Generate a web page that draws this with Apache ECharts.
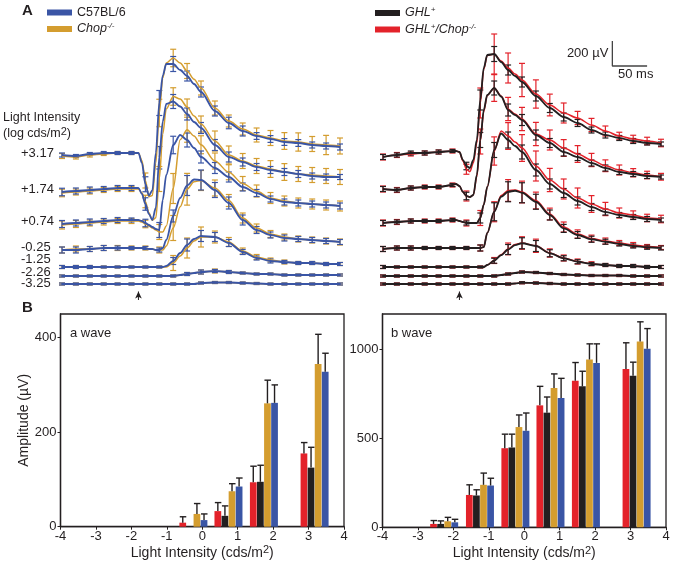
<!DOCTYPE html>
<html><head><meta charset="utf-8">
<script src="https://cdn.jsdelivr.net/npm/echarts@6/dist/echarts.min.js"></script>
<style>html,body{margin:0;padding:0;background:#fff}#c{width:673px;height:563px}</style>
</head><body><div id="c"></div>
<script>
const FONT = '"Liberation Sans", Arial, Helvetica, sans-serif';
const INK = '#231f20';
const COL_C57 = '#3a55a5', COL_CHOP = '#d49d2f', COL_GHL = '#231f20', COL_GHLCHOP = '#e3222a';

// ---------- Panel A: ERG traces ----------
const timeMs = [0,20,40,60,80,100,105,110,115,120,125,130,135,140,145,150,160,170,180,190,200,220,240,260,280,300,320,340,360,380,400];
const errTimeMs = [0,20,40,60,80,100,120,140,160,180,200,220,240,260,280,300,320,340,360,380,400];
const flashMs = 110;
const intensityLabels = ['+3.17','+1.74','+0.74','-0.25','-1.25','-2.26','-3.25'];
const traceBaselineUV = [1048,760,504,288,136,64,0];
const labelLevelUV = [1048,760,504,296,200,96,8];
const scaleBarUV = 200, scaleBarMs = 50;

const c57Trace = [
 [-16,-24,-8,0,0,0,0,0,-80,-250,-340,-300,0,400,620,712,712,664,616,552,488,336,240,176,136,112,88,80,64,56,48],
 [-24,-16,-8,0,8,8,8,8,-40,-120,-200,-248,-150,250,540,680,700,660,600,536,488,352,256,216,176,152,136,120,104,96,96],
 [-24,-16,-8,0,8,8,8,8,0,-16,-32,-48,-64,-72,168,368,608,688,648,584,512,424,352,272,224,176,152,144,136,128,120],
 [-16,-16,-8,0,0,0,0,0,0,0,-8,-8,-16,-16,0,64,256,400,500,548,544,464,360,224,144,104,80,72,64,56,48],
 [0,0,0,0,0,0,0,0,0,0,0,0,0,0,0,8,48,112,176,224,248,240,192,120,72,48,40,32,32,24,24],
 [0,0,0,0,0,0,0,0,0,0,0,0,0,0,0,0,0,8,16,24,32,40,32,24,16,16,8,8,8,8,8],
 [0,0,0,0,0,0,0,0,0,0,0,0,0,0,0,0,0,0,0,0,8,12,12,8,4,0,0,0,0,0,0]
];
const chopTrace = [
 [-24,-32,-16,-8,0,0,0,0,-60,-220,-350,-340,-80,320,600,720,760,720,656,590,520,360,256,192,144,120,96,88,72,64,56],
 [-32,-24,-16,-8,0,0,0,0,-30,-100,-190,-250,-230,80,440,640,740,720,656,584,520,384,272,224,184,160,136,120,112,104,96],
 [-32,-24,-16,-8,0,0,0,0,-8,-24,-40,-56,-72,-88,-88,-40,260,650,730,680,610,480,390,300,240,184,160,144,136,128,120],
 [-16,-8,-8,0,0,0,0,0,0,0,-8,-8,-16,-16,-16,16,160,330,470,530,540,480,380,240,160,112,88,72,64,56,48],
 [0,0,0,0,0,0,0,0,0,0,0,0,0,0,0,0,32,88,152,208,240,240,200,128,80,56,40,32,32,24,24],
 [0,0,0,0,0,0,0,0,0,0,0,0,0,0,0,0,0,8,16,24,32,40,32,24,16,16,8,8,8,8,8],
 [0,0,0,0,0,0,0,0,0,0,0,0,0,0,0,0,0,0,0,0,8,12,12,8,4,0,0,0,0,0,0]
];
const ghlTrace = [
 [-32,-16,0,0,8,16,16,8,-56,-104,-120,-56,104,424,680,784,792,728,664,616,568,456,360,288,240,184,144,120,96,80,72],
 [0,-8,8,16,16,32,40,24,-24,-56,-64,-48,112,392,632,752,808,740,632,592,552,432,368,296,256,208,168,136,120,104,96],
 [-16,-8,0,0,0,8,8,0,-8,-16,-16,-16,-16,24,130,272,568,700,648,600,552,408,296,224,160,112,72,48,32,16,8],
 [-8,0,0,0,0,0,0,0,0,0,0,0,0,0,8,120,290,410,450,458,442,370,264,157,104,70,50,32,16,6,0],
 [0,0,0,0,0,0,0,0,0,0,0,0,0,0,0,16,50,95,140,175,190,168,110,70,42,24,16,8,8,0,0],
 [0,0,0,0,0,0,0,0,0,0,0,0,0,0,0,0,0,8,16,24,32,28,20,12,8,4,4,4,0,0,0],
 [0,0,0,0,0,0,0,0,0,0,0,0,0,0,0,0,0,0,0,4,10,8,4,0,0,0,0,0,0,0,0]
];
const ghlChopTrace = [
 [-32,-16,-8,0,8,16,16,8,-64,-130,-150,-80,80,400,670,780,792,736,680,632,584,472,384,320,280,224,176,136,112,96,80],
 [0,-8,8,16,16,32,40,24,-24,-56,-64,-48,100,380,620,750,808,744,640,600,560,440,392,328,280,232,186,152,130,112,98],
 [-16,-8,0,0,0,8,8,0,-8,-16,-16,-16,-16,24,130,272,560,720,680,632,584,440,328,256,184,136,96,64,48,24,16],
 [-8,0,0,0,0,0,0,0,0,0,0,0,0,0,8,120,290,420,460,464,448,380,272,168,112,76,56,40,24,12,4],
 [0,0,0,0,0,0,0,0,0,0,0,0,0,0,0,16,52,98,145,180,192,170,112,72,44,26,16,8,8,0,0],
 [0,0,0,0,0,0,0,0,0,0,0,0,0,0,0,0,0,8,16,24,32,28,20,12,8,4,4,4,0,0,0],
 [0,0,0,0,0,0,0,0,0,0,0,0,0,0,0,0,0,0,0,4,10,8,4,0,0,0,0,0,0,0,0]
];
const c57Err = [
 [16,12,12,12,12,12,60,100,60,40,40,40,46,40,27,27,27,27,24,24,24],
 [30,24,24,20,20,20,50,90,56,48,44,44,40,32,28,28,28,28,24,24,20],
 [28,24,24,20,20,16,30,60,70,56,48,44,40,32,28,24,24,24,24,24,24],
 [24,24,20,20,16,12,12,16,48,80,80,60,48,40,28,24,24,20,20,20,20],
 [12,12,12,8,8,8,8,8,28,48,44,36,28,20,16,16,12,12,12,12,12],
 [8,8,8,8,8,8,8,8,8,12,16,12,12,8,8,8,8,8,8,8,8],
 [8,8,8,8,8,8,8,8,8,8,8,8,8,8,8,8,8,8,8,8,8]
];
const chopErr = [
 [20,16,16,12,12,12,60,110,70,60,56,56,48,48,56,60,67,73,60,77,64],
 [30,24,24,20,20,20,50,100,70,64,64,80,72,60,60,67,67,60,60,60,60],
 [32,28,24,24,20,20,30,60,120,100,72,64,60,56,48,44,40,40,40,40,40],
 [24,24,20,20,20,16,16,24,100,127,80,64,48,40,32,28,24,24,24,24,24],
 [12,12,12,8,8,8,8,8,60,80,80,48,36,24,20,16,16,12,12,12,12],
 [8,8,8,8,8,8,8,8,8,12,16,16,12,8,8,8,8,8,8,8,8],
 [8,8,8,8,8,8,8,8,8,8,8,8,8,8,8,8,8,8,8,8,8]
];
const ghlErr = [
 [20,16,16,16,16,12,30,80,60,40,40,40,36,32,28,24,24,20,20,16,16],
 [20,16,16,12,12,12,30,60,56,48,44,40,36,32,28,24,24,20,20,20,16],
 [20,16,16,12,12,12,16,40,60,64,56,48,40,36,32,28,24,20,20,20,16],
 [20,16,16,12,12,12,12,24,72,80,80,60,40,32,27,24,20,16,16,16,16],
 [12,8,8,8,8,8,8,8,20,40,44,44,28,20,16,12,12,12,12,12,12],
 [8,8,8,8,8,8,8,8,8,8,8,8,8,8,8,8,8,8,8,8,8],
 [8,8,8,8,8,8,8,8,8,8,8,8,8,8,8,8,8,8,8,8,8]
];
const ghlChopErr = [
 [24,20,16,16,16,16,40,120,160,120,133,113,87,80,53,53,40,30,30,30,30],
 [24,20,16,16,16,16,40,100,107,93,93,93,80,67,67,53,47,40,33,30,27],
 [24,20,16,16,16,16,24,60,113,107,107,120,93,80,80,67,53,40,33,30,30],
 [20,16,16,12,12,12,12,24,80,87,87,67,47,40,33,27,24,20,20,16,16],
 [12,8,8,8,8,8,8,8,24,47,50,53,33,24,20,16,12,12,12,12,12],
 [8,8,8,8,8,8,8,8,8,8,8,8,8,8,8,8,8,8,8,8,8],
 [8,8,8,8,8,8,8,8,8,8,8,8,8,8,8,8,8,8,8,8,8]
];

// ---------- Panel B: amplitudes ----------
const intensityLog = [-3.25,-2.26,-1.25,-0.25,0.74,1.74,3.17];
const aWaveGhlChop = [0,0,0,8.5,33,94,155];
const aWaveGhlChopErr = [0,0,0,12.5,18,34,23];
const aWaveGhl = [0,0,0,0,23,95,125];
const aWaveGhlErr = [0,0,0,0,21,35,43];
const aWaveChop = [0,0,0,27,75,261,344];
const aWaveChopErr = [0,0,0,22,16,49,63];
const aWaveC57 = [0,0,0,14,85,262,328];
const aWaveC57Err = [0,0,0,13,18,38,39];
const bWaveGhlChop = [0,19,182,445,686,825,891];
const bWaveGhlChopErr = [0,19,57,79,107,102,147];
const bWaveGhl = [0,19,179,449,645,793,853];
const bWaveGhlErr = [0,17,32,75,88,85,76];
const bWaveChop = [0,34,239,564,784,944,1045];
const bWaveChopErr = [0,22,66,68,79,88,111];
const bWaveC57 = [0,28,235,543,727,925,1004];
const bWaveC57Err = [0,17,41,100,111,107,114];
const aWaveTicks = [0,200,400];
const bWaveTicks = [0,500,1000];
const BAR_W = 0.19;
const barOffsets = {ghlChop:-0.3, ghl:-0.1, chop:0.1, c57:0.3};

function traceLines(name, traces, color, width, g){
  return traces.map((tr,k)=>({
    type:'line', name, xAxisIndex:g, yAxisIndex:g, silent:true,
    data: timeMs.map((t,i)=>[t, tr[i]+traceBaselineUV[k]]),
    showSymbol:false, symbol:'none', smooth:0.3, smoothMonotone:'x',
    lineStyle:{color, width}, itemStyle:{color}
  }));
}
function traceErrors(name, traces, errs, color, g){
  const data = [];
  traces.forEach((tr,k)=>errTimeMs.forEach((t,j)=>{
    const i = timeMs.indexOf(t);
    data.push([t, tr[i]+traceBaselineUV[k], errs[k][j]]);
  }));
  return {type:'custom', name:name+' SEM', xAxisIndex:g, yAxisIndex:g, silent:true,
    data, encode:{x:0,y:1}, itemStyle:{color},
    renderItem(params, api){
      const t=api.value(0), v=api.value(1), e=api.value(2);
      const a=api.coord([t,v+e]), b=api.coord([t,v-e]); const hw=3;
      const st={stroke:color, lineWidth:1.2};
      return {type:'group', children:[
        {type:'line', shape:{x1:a[0],y1:a[1],x2:b[0],y2:b[1]}, style:st},
        {type:'line', shape:{x1:a[0]-hw,y1:a[1],x2:a[0]+hw,y2:a[1]}, style:st},
        {type:'line', shape:{x1:b[0]-hw,y1:b[1],x2:b[0]+hw,y2:b[1]}, style:st}
      ]};
    }};
}
function barSeries(name, vals, errs, color, off, g){
  return {type:'custom', name, xAxisIndex:g, yAxisIndex:g, silent:true,
    data: intensityLog.map((x,i)=>[x, vals[i], errs[i]]), encode:{x:0,y:1}, itemStyle:{color},
    renderItem(params, api){
      const x=api.value(0), y=api.value(1), e=api.value(2);
      if(!(y>0)) return null;
      const p0=api.coord([x+off-BAR_W/2,0]), p1=api.coord([x+off+BAR_W/2,y]);
      const cx=(p0[0]+p1[0])/2, pe=api.coord([x+off,y+e]);
      const st={stroke:INK, lineWidth:1.4};
      return {type:'group', children:[
        {type:'rect', shape:{x:p0[0], y:p1[1], width:p1[0]-p0[0], height:p0[1]-p1[1]}, style:{fill:color}},
        {type:'line', shape:{x1:cx,y1:p1[1],x2:cx,y2:pe[1]}, style:st},
        {type:'line', shape:{x1:cx-3,y1:pe[1],x2:cx+3.5,y2:pe[1]}, style:st}
      ]};
    }};
}

const hiddenX = g=>({gridIndex:g, type:'value', min:0, max:400, show:false, splitLine:{show:false}});
const hiddenY = g=>({gridIndex:g, type:'value', min:-160, max:2000, show:false, splitLine:{show:false}});
const barX = g=>({gridIndex:g, type:'value', min:-4, max:4, interval:1,
  axisLine:{show:true, onZero:false, lineStyle:{color:INK, width:1.3}},
  axisTick:{show:true, length:3, lineStyle:{color:INK}},
  axisLabel:{color:INK, fontSize:13, fontFamily:FONT, margin:3},
  splitLine:{show:false},
  name:'{a|Light Intensity (cds/m}{s|2}{a|)}', nameLocation:'middle', nameGap:18,
  nameTextStyle:{rich:{a:{fontSize:14, fontFamily:FONT, color:INK, lineHeight:16}, s:{fontSize:11, fontFamily:FONT, color:INK, lineHeight:10, verticalAlign:'top'}}}
});
const barY = (g,max,ticks,name)=>({gridIndex:g, type:'value', min:0, max,
  axisLine:{show:true, onZero:false, lineStyle:{color:INK, width:1.3}},
  axisTick:{show:true, length:3, lineStyle:{color:INK}, customValues:ticks},
  axisLabel:{color:INK, fontSize:13, fontFamily:FONT, margin:4, customValues:ticks, formatter:v=>String(v)},
  splitLine:{show:false},
  name, nameLocation:'middle', nameGap:27, nameTextStyle:{fontSize:14, fontFamily:FONT, color:INK}
});

const arrow = g=>({type:'line', xAxisIndex:g, yAxisIndex:g, silent:true,
  data:[{value:[flashMs,-128], symbol:'none'},{value:[flashMs,-60], symbol:'arrow', symbolSize:[5,7]}],
  lineStyle:{color:INK, width:1}, itemStyle:{color:INK}, showSymbol:true});

const series = [
  traceErrors('Chop-/-', chopTrace, chopErr, COL_CHOP, 0),
  ...traceLines('Chop-/-', chopTrace, COL_CHOP, 1.5, 0),
  traceErrors('C57BL/6', c57Trace, c57Err, COL_C57, 0),
  ...traceLines('C57BL/6', c57Trace, COL_C57, 1.8, 0),
  traceErrors('GHL+/Chop-/-', ghlChopTrace, ghlChopErr, COL_GHLCHOP, 1),
  ...traceLines('GHL+/Chop-/-', ghlChopTrace, COL_GHLCHOP, 1.5, 1),
  traceErrors('GHL+', ghlTrace, ghlErr, COL_GHL, 1),
  ...traceLines('GHL+', ghlTrace, COL_GHL, 1.8, 1),
  arrow(0), arrow(1),
  {type:'line', xAxisIndex:1, yAxisIndex:1, silent:true, symbol:'none',
   data:[[330,1744+scaleBarUV],[330,1744],[330+scaleBarMs,1744]], lineStyle:{color:'#444', width:1.3}},
  barSeries('a GHL+/Chop-/-', aWaveGhlChop, aWaveGhlChopErr, COL_GHLCHOP, barOffsets.ghlChop, 2),
  barSeries('a GHL+', aWaveGhl, aWaveGhlErr, COL_GHL, barOffsets.ghl, 2),
  barSeries('a Chop-/-', aWaveChop, aWaveChopErr, COL_CHOP, barOffsets.chop, 2),
  barSeries('a C57BL/6', aWaveC57, aWaveC57Err, COL_C57, barOffsets.c57, 2),
  barSeries('b GHL+/Chop-/-', bWaveGhlChop, bWaveGhlChopErr, COL_GHLCHOP, barOffsets.ghlChop, 3),
  barSeries('b GHL+', bWaveGhl, bWaveGhlErr, COL_GHL, barOffsets.ghl, 3),
  barSeries('b Chop-/-', bWaveChop, bWaveChopErr, COL_CHOP, barOffsets.chop, 3),
  barSeries('b C57BL/6', bWaveC57, bWaveC57Err, COL_C57, barOffsets.c57, 3)
];

const legendRich = {
  n:{fontSize:12.5, fontFamily:FONT, color:INK, lineHeight:14},
  i:{fontSize:12.5, fontFamily:FONT, color:INK, fontStyle:'italic', lineHeight:14},
  s:{fontSize:8, fontFamily:FONT, color:INK, fontStyle:'italic', lineHeight:8, verticalAlign:'top'}
};
const legendText = {'C57BL/6':'{n|C57BL/6}', 'Chop-/-':'{i|Chop}{s|-/-}', 'GHL+':'{i|GHL}{s|+}', 'GHL+/Chop-/-':'{i|GHL}{s|+}{i|/Chop}{s|-/-}'};
const legendBase = {orient:'vertical', top:6, padding:0, itemWidth:25, itemHeight:6, itemGap:3, icon:'rect',
  selectedMode:false, formatter:n=>legendText[n], textStyle:{rich:legendRich, fontSize:12.5, fontFamily:FONT}};

const chart = echarts.init(document.getElementById('c'), null, {renderer:'canvas'});
chart.setOption({
  animation:false, backgroundColor:'#fff',
  textStyle:{fontFamily:FONT},
  legend:[
    Object.assign({}, legendBase, {left:47, data:['C57BL/6','Chop-/-']}),
    Object.assign({}, legendBase, {left:375, data:['GHL+','GHL+/Chop-/-']})
  ],
  grid:[
    {left:62, top:34, width:278, height:270},
    {left:383, top:34, width:278, height:270},
    {left:60.5, top:314, width:283.5, height:212.7, show:true, borderColor:INK, borderWidth:1.3},
    {left:382.5, top:314, width:283.5, height:213.3, show:true, borderColor:INK, borderWidth:1.3}
  ],
  xAxis:[hiddenX(0), hiddenX(1), barX(2), barX(3)],
  yAxis:[hiddenY(0), hiddenY(1), barY(2,450,aWaveTicks,'Amplitude (µV)'), barY(3,1200,bWaveTicks,'')],
  series
});

// text annotations positioned through the chart's scales
const g = [];
const txt = (x,y,text,opts={})=>g.push({type:'text', x, y, silent:true,
  style:Object.assign({text, fill:INK, font:'13px '+FONT, align:'left', verticalAlign:'middle'}, opts)});
txt(22,11,'A',{font:'bold 15px '+FONT});
txt(22,308,'B',{font:'bold 15px '+FONT});
txt(3,118,'Light Intensity',{font:'12.5px '+FONT});
txt(3,134,'{a|(log cds/m}{s|2}{a|)}',{rich:{a:{fontSize:12.5, fontFamily:FONT, fill:INK, lineHeight:15}, s:{fontSize:11, fontFamily:FONT, fill:INK, lineHeight:10, verticalAlign:'top'}}});
intensityLabels.forEach((lab,k)=>{
  const p = chart.convertToPixel({gridIndex:0}, [0, labelLevelUV[k]]);
  txt(21, p[1], lab);
});
const sv = chart.convertToPixel({gridIndex:1}, [330, 1744+scaleBarUV/2]);
txt(sv[0]-4, sv[1], '200 µV', {align:'right'});
const sh = chart.convertToPixel({gridIndex:1}, [330+scaleBarMs/2, 1744]);
txt(sh[0]+6, sh[1]+8, '50 ms', {align:'center'});
txt(70,333,'a wave');
txt(391,333,'b wave');
chart.setOption({graphic:g});
</script></body></html>
